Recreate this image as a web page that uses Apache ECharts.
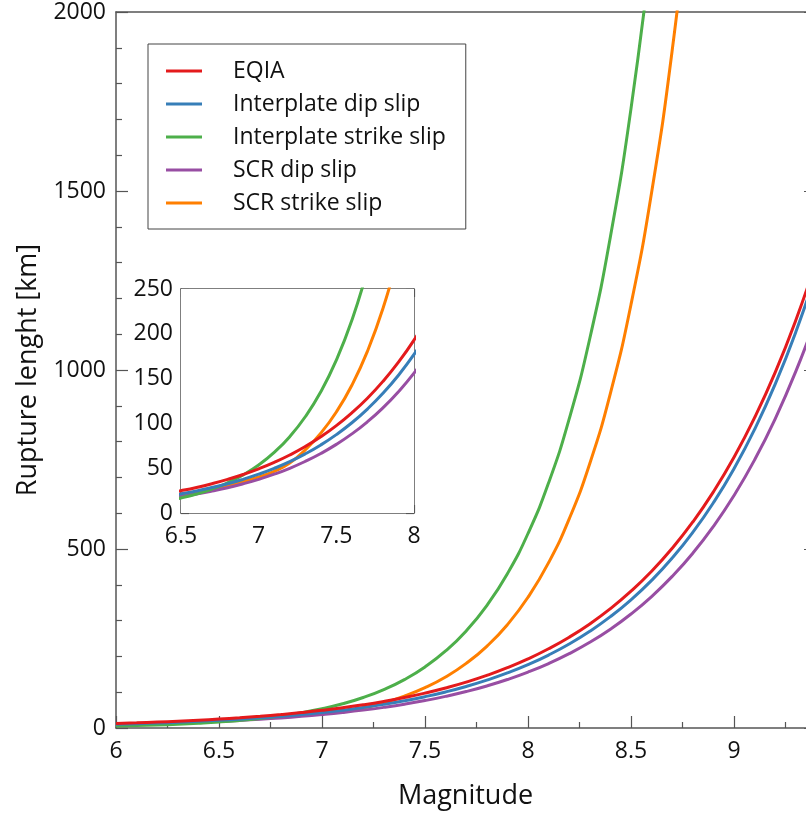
<!DOCTYPE html>
<html>
<head>
<meta charset="utf-8">
<script src="https://cdn.jsdelivr.net/npm/echarts@6/dist/echarts.min.js"></script>
<style>
  html, body { margin: 0; padding: 0; background: #fff; }
  #chart { width: 806px; height: 814px; }
</style>
</head>
<body>
<div id="chart"></div>
<script>
// magnitudes sampled along the x axis
const magnitudes = [6.0, 6.1, 6.2, 6.3, 6.4, 6.5, 6.6, 6.7, 6.8, 6.9, 7.0, 7.1, 7.2, 7.3, 7.4, 7.5, 7.6, 7.7, 7.8, 7.9,
  8.0, 8.1, 8.2, 8.3, 8.4, 8.5, 8.6, 8.7, 8.8, 8.9, 9.0, 9.1, 9.2, 9.3, 9.4];

// rupture length [km]
const eqia = [12.6, 14.4, 16.5, 18.9, 21.7, 24.9, 28.5, 32.7, 37.5, 43.0, 49.3, 56.5, 64.7, 74.2, 85.1, 97.5, 111.8, 128.1, 146.9, 168.4,
  193.0, 221.3, 253.6, 290.8, 333.3, 382.1, 437.9, 502.0, 575.5, 659.7, 756.2, 866.8, 993.4, 1139, 1305];
const interDip = [10.6, 12.2, 14.0, 16.1, 18.6, 21.4, 24.6, 28.4, 32.6, 37.6, 43.3, 49.8, 57.3, 66.0, 76.0, 87.5, 100.7, 116.0, 133.6, 153.8,
  177.0, 203.8, 234.6, 270.2, 311.1, 358.1, 412.3, 474.8, 546.6, 629.3, 724.4, 834.1, 960.4, 1106, 1273];
const interStrike = [5.3, 6.7, 8.4, 10.6, 13.4, 16.8, 21.2, 26.8, 33.7, 42.5, 53.6, 67.6, 85.2, 107.4, 135.3, 170.6, 215.1, 271.2, 341.9, 430.9,
  543.3, 684.8, 863.4, 1088, 1372, 1730, 2181];
const scrDip = [9.0, 10.4, 12.0, 13.8, 16.0, 18.4, 21.2, 24.5, 28.2, 32.6, 37.6, 43.3, 49.9, 57.6, 66.4, 76.6, 88.3, 101.8, 117.4, 135.4,
  156.1, 180.0, 207.6, 239.4, 276.1, 318.4, 367.2, 423.5, 488.3, 563.2, 649.4, 748.9, 863.7, 996, 1148];
const scrStrike = [9.8, 11.3, 13.0, 14.9, 17.2, 19.8, 22.9, 26.3, 30.4, 35.0, 40.3, 46.4, 55.7, 70.5, 89.1, 112.7, 142.6, 180.4, 228.2, 288.6,
  365.1, 461.8, 584.2, 739.0, 934.9, 1183, 1496, 1893, 2394];

const legendNames = ["EQIA", "Interplate dip slip", "Interplate strike slip", "SCR dip slip", "SCR strike slip"];

// drawn bottom to top
const curves = [
  { name: "SCR strike slip", values: scrStrike, color: "#ff7f00" },
  { name: "SCR dip slip", values: scrDip, color: "#984ea3" },
  { name: "Interplate strike slip", values: interStrike, color: "#4daf4a" },
  { name: "Interplate dip slip", values: interDip, color: "#377eb8" },
  { name: "EQIA", values: eqia, color: "#e41a1c" },
];

const font = "Open Sans";
const axisColor = "#555";

function pairs(values) {
  return values.map((v, i) => [magnitudes[i], v]);
}

function axis(opts) {
  return Object.assign({
    type: "value",
    axisLine: { show: true, onZero: false, lineStyle: { color: axisColor, width: 1.5 } },
    axisTick: { show: true, inside: true, length: 12, lineStyle: { color: axisColor, width: 1.2 } },
    minorTick: { show: true, splitNumber: 2, length: 6, lineStyle: { color: axisColor, width: 1.2 } },
    splitLine: { show: false },
    axisLabel: { show: true, color: "#111", fontFamily: font, fontSize: 23 },
  }, opts);
}

const plain = (v) => String(v);

const series = [];
curves.forEach((c) => {
  series.push({
    name: c.name, type: "line", data: pairs(c.values), xAxisIndex: 0, yAxisIndex: 0,
    smooth: true, showSymbol: false, clip: true,
    lineStyle: { color: c.color, width: 3 }, itemStyle: { color: c.color },
  });
  series.push({
    name: c.name, type: "line", data: pairs(c.values), xAxisIndex: 2, yAxisIndex: 2,
    smooth: true, showSymbol: false, clip: true, z: 5,
    lineStyle: { color: c.color, width: 3 }, itemStyle: { color: c.color },
  });
});

const chart = echarts.init(document.getElementById("chart"));

chart.setOption({
  animation: false,
  backgroundColor: "#fff",
  grid: [
    { left: 116, top: 12, width: 721, height: 716, outerBoundsMode: "none", containLabel: false },
    { left: 181, top: 289, width: 233, height: 224, outerBoundsMode: "none", containLabel: false,
      show: true, backgroundColor: "#fff", borderWidth: 0, z: 4 },
  ],
  legend: {
    data: legendNames,
    orient: "vertical",
    left: 148,
    top: 44,
    selectedMode: false,
    icon: "rect",
    itemWidth: 36,
    itemHeight: 3,
    itemGap: 7,
    padding: [14, 20, 13, 18],
    borderColor: "#444",
    borderWidth: 1,
    textStyle: { fontFamily: font, fontSize: 23, color: "#111", lineHeight: 26, padding: [0, 0, 0, 26] },
  },
  xAxis: [
    axis({
      gridIndex: 0, position: "bottom", min: 6, max: 9.5, interval: 0.5,
      name: "Magnitude", nameLocation: "middle", nameGap: 55,
      nameTextStyle: { fontFamily: font, fontSize: 27, color: "#111", padding: [0, 22, 0, 0] },
      axisLabel: { color: "#111", fontFamily: font, fontSize: 23, margin: 12, showMaxLabel: false, formatter: plain },
    }),
    axis({
      gridIndex: 0, position: "top", min: 6, max: 9.5, interval: 0.5,
      axisTick: { show: false }, minorTick: { show: false }, axisLabel: { show: false },
    }),
    axis({
      gridIndex: 1, position: "bottom", min: 6.5, max: 8, interval: 0.5,
      axisTick: { show: true, inside: true, length: 8, lineStyle: { color: axisColor, width: 1.2 } },
      minorTick: { show: true, splitNumber: 2, length: 4, lineStyle: { color: axisColor, width: 1.2 } },
      axisLabel: { color: "#111", fontFamily: font, fontSize: 23, margin: 12, formatter: plain },
    }),
    axis({
      gridIndex: 1, position: "top", min: 6.5, max: 8, interval: 0.5,
      axisTick: { show: true, inside: true, length: 8, lineStyle: { color: axisColor, width: 1.2 } },
      minorTick: { show: true, splitNumber: 2, length: 4, lineStyle: { color: axisColor, width: 1.2 } },
      axisLabel: { show: false },
    }),
  ],
  yAxis: [
    axis({
      gridIndex: 0, position: "left", min: 0, max: 2000, interval: 500,
      minorTick: { show: true, splitNumber: 5, length: 6, lineStyle: { color: axisColor, width: 1.2 } },
      name: "Rupture lenght [km]", nameLocation: "middle", nameGap: 74,
      nameTextStyle: { fontFamily: font, fontSize: 27, color: "#111" },
      axisLabel: { color: "#111", fontFamily: font, fontSize: 23, margin: 10, formatter: plain },
    }),
    axis({
      gridIndex: 0, position: "right", offset: -21, min: 0, max: 2000, interval: 500,
      axisLine: { show: false }, minorTick: { show: false }, axisLabel: { show: false },
    }),
    axis({
      gridIndex: 1, position: "left", min: 0, max: 250, interval: 50,
      axisTick: { show: true, inside: true, length: 8, lineStyle: { color: axisColor, width: 1.2 } },
      minorTick: { show: true, splitNumber: 2, length: 4, lineStyle: { color: axisColor, width: 1.2 } },
      axisLabel: { color: "#111", fontFamily: font, fontSize: 23, margin: 8, formatter: plain },
    }),
    axis({
      gridIndex: 1, position: "right", min: 0, max: 250, interval: 50,
      axisTick: { show: true, inside: true, length: 8, lineStyle: { color: axisColor, width: 1.2 } },
      minorTick: { show: true, splitNumber: 2, length: 4, lineStyle: { color: axisColor, width: 1.2 } },
      axisLabel: { show: false },
    }),
  ],
  series: series,
});
</script>
</body>
</html>
